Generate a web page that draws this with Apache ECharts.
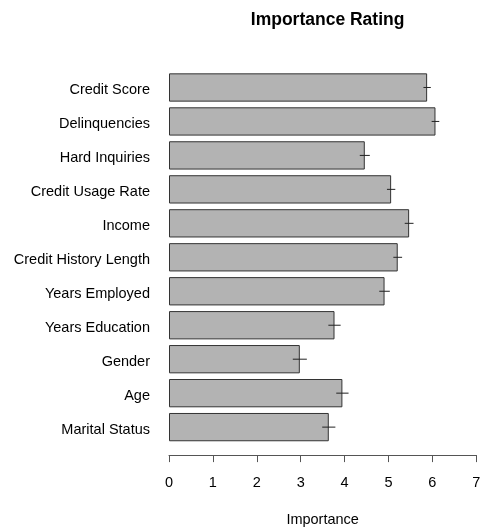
<!DOCTYPE html>
<html>
<head>
<meta charset="utf-8">
<script src="https://cdn.jsdelivr.net/npm/echarts@6/dist/echarts.min.js"></script>
<style>
  html, body { margin: 0; padding: 0; background: #fff; }
  #chart { width: 484px; height: 529px; }
</style>
</head>
<body>
<div id="chart"></div>
<script>
// Factors, mean importance and standard error for each
const factors = [
  'Credit Score', 'Delinquencies', 'Hard Inquiries', 'Credit Usage Rate',
  'Income', 'Credit History Length', 'Years Employed', 'Years Education',
  'Gender', 'Age', 'Marital Status'
];
const importance = [5.88, 6.07, 4.46, 5.06, 5.47, 5.21, 4.91, 3.77, 2.98, 3.95, 3.64];
const stdErr = [0.084, 0.087, 0.114, 0.095, 0.10, 0.10, 0.12, 0.14, 0.16, 0.14, 0.15];
const xTicks = [0, 1, 2, 3, 4, 5, 6, 7];

const font = 'Liberation Sans, Arial, Helvetica, sans-serif';
const labelSize = 14.5;

const errData = importance.map((v, i) => [i, v - stdErr[i], v + stdErr[i]]);

const chart = echarts.init(document.getElementById('chart'), null, { renderer: 'canvas' });
chart.setOption({
  animation: false,
  backgroundColor: '#ffffff',
  textStyle: { fontFamily: font },
  title: {
    text: 'Importance Rating',
    left: 322.6,
    top: 6,
    textAlign: 'center',
    textStyle: { fontFamily: font, fontSize: 17.5, fontWeight: 'bold', color: '#000' }
  },
  grid: {
    left: 169, right: 7.7, top: 70.5, bottom: 84.9,
    containLabel: false,
    outerBoundsMode: 'none'
  },
  xAxis: {
    type: 'value',
    min: xTicks[0],
    max: xTicks[xTicks.length - 1],
    interval: 1,
    offset: 11,
    name: 'Importance',
    nameLocation: 'middle',
    nameGap: 57,
    nameTextStyle: { fontFamily: font, fontSize: labelSize, color: '#000' },
    axisLine: { show: true, lineStyle: { color: '#555', width: 1 } },
    axisTick: { show: true, length: 7, lineStyle: { color: '#555', width: 1 } },
    axisLabel: { fontFamily: font, fontSize: labelSize, color: '#000', margin: 20 },
    splitLine: { show: false }
  },
  yAxis: {
    type: 'category',
    data: factors,
    inverse: true,
    axisLine: { show: false },
    axisTick: { show: false },
    axisLabel: {
      margin: 19,
      align: 'right',
      formatter: function (v) { return '{n|' + v + '}'; },
      rich: {
        n: { fontFamily: font, fontSize: labelSize, color: '#000', padding: [5, 0, 0, 0] }
      }
    }
  },
  series: [
    {
      type: 'bar',
      data: importance,
      barCategoryGap: '16.7%',
      itemStyle: { color: '#b3b3b3', borderColor: '#333', borderWidth: 1 }
    },
    {
      type: 'custom',
      data: errData,
      encode: { x: [1, 2], y: 0 },
      renderItem: function (params, api) {
        const i = api.value(0);
        const a = api.coord([api.value(1), i]);
        const b = api.coord([api.value(2), i]);
        return {
          type: 'line',
          shape: { x1: a[0], y1: a[1], x2: b[0], y2: b[1] },
          style: { stroke: '#222', lineWidth: 1 }
        };
      },
      z: 5
    }
  ]
});
</script>
</body>
</html>
